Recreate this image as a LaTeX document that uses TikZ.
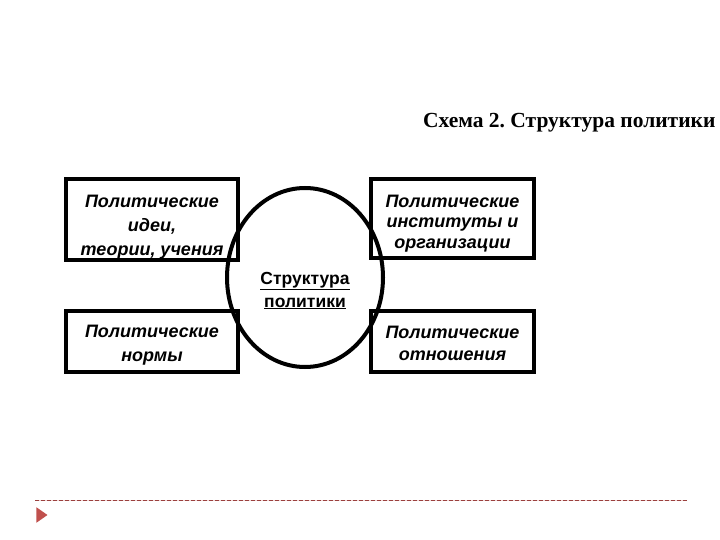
\documentclass[tikz,border=0pt]{standalone}
\usepackage{fontspec}
\setmainfont{Liberation Serif}
\newfontfamily\boxfont{Liberation Sans}
\usepackage{tikz}
\usetikzlibrary{positioning,shapes.geometric}
\usepackage{xcolor}
\definecolor{slidered}{HTML}{C0504D}
\frenchspacing

\begin{document}
\begin{tikzpicture}[
    x=1pt, y=-1pt,
    part/.style={draw, line width=4pt, minimum width=#1, inner sep=0pt},
    parttext/.style={align=center, inner sep=0pt,
                 font=\boxfont\bfseries\itshape\fontsize{18}{#1}\selectfont},
    core/.style={draw, ellipse, line width=4pt, minimum width=156pt,
                 minimum height=179pt, inner sep=0pt},
    coretext/.style={align=center, inner sep=0pt,
                 font=\boxfont\bfseries\fontsize{17.5}{23}\selectfont}
  ]
    \useasboundingbox (0,0) rectangle (720,540);

    % title
    \node[anchor=base east, font=\bfseries\fontsize{21.5}{24}\selectfont]
      (title) at (719,128) {Схема 2. Структура политики};

    % centre
    \node[core] (struct) at (305,277.5) {};
    \node[coretext] (struct text) at ([yshift=-13pt]struct.center)
      {\underline{Структура}\\\underline{политики}};

    % the four parts
    \node[part=172pt, minimum height=81pt] (ideas) at (152,219.5) {};
    \node[part=163pt, minimum height=79pt] (inst) at (452.5,218.5) {};
    \node[part=172pt, minimum height=61pt] (norms) at (152,341.5) {};
    \node[part=163pt, minimum height=61pt] (rel) at (452.5,341.5) {};

    \node[parttext=24pt] (ideas text) at ([yshift=-8pt]ideas.center)
      {Политические\\идеи,\\теории, учения};
    \node[parttext=20.5pt] (inst text) at ([yshift=-5pt]inst.center)
      {Политические\\институты и\\организации};
    \node[parttext=24pt] (norms text) at ([yshift=-4pt]norms.center)
      {Политические\\нормы};
    \node[parttext=22pt] (rel text) at ([yshift=-2pt]rel.center)
      {Политические\\отношения};

    % footer
    \coordinate (rule l) at (35,500);
    \coordinate (rule r) at (687,500);
    \draw[slidered!25, line width=0.8pt] (rule l) -- (rule r);
    \draw[slidered!80!black, line width=0.8pt, dash pattern=on 4pt off 2pt] (rule l) -- (rule r);
    \node[fill=slidered, isosceles triangle, isosceles triangle apex angle=70,
          minimum height=11pt, minimum width=15pt, inner sep=0pt] (mark) at (40.5,515) {};
  \end{tikzpicture}
\end{document}
